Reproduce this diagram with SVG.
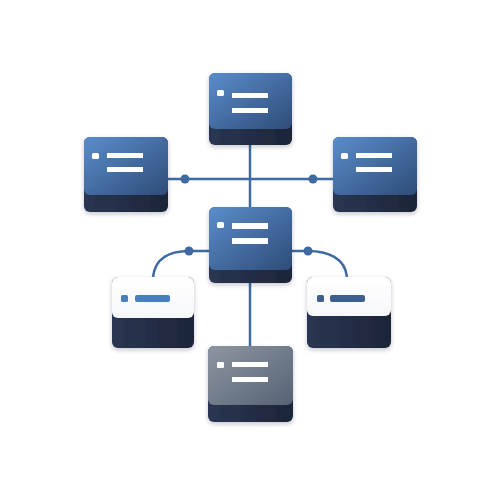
<svg xmlns="http://www.w3.org/2000/svg" width="500" height="500" viewBox="0 0 500 500">
<defs>
<linearGradient id="blue" x1="0" y1="0" x2="1" y2="1">
<stop offset="0" stop-color="#5a8dcb"/>
<stop offset="1" stop-color="#2e4c78"/>
</linearGradient>
<linearGradient id="gray" x1="0" y1="0" x2="1" y2="1">
<stop offset="0" stop-color="#8d96a2"/>
<stop offset="1" stop-color="#566273"/>
</linearGradient>
<linearGradient id="white" x1="0" y1="0" x2="0" y2="1">
<stop offset="0" stop-color="#ffffff"/>
<stop offset="1" stop-color="#f6f7f9"/>
</linearGradient>
<linearGradient id="base" x1="0" y1="0" x2="1" y2="0">
<stop offset="0" stop-color="#2a3652"/>
<stop offset="1" stop-color="#1d2539"/>
</linearGradient>
<filter id="sh" x="-20%" y="-20%" width="140%" height="150%">
<feDropShadow dx="0" dy="2" stdDeviation="2" flood-color="#1d2539" flood-opacity="0.25"/>
</filter>
</defs>
<style>
.base{fill:url(#base)}
.fb{fill:url(#blue)}
.fg{fill:url(#gray)}
.fw{fill:url(#white)}
.bar{fill:#ffffff}
.con{fill:none;stroke:#3e6aa1;stroke-width:2.5}
.jd{fill:#3e6aa1}
</style>
<g id="connectors">
<path class="con" d="M168 179 H333"/>
<path class="con" d="M250 145 V207"/>
<path class="con" d="M250 283 V346"/>
<path class="con" d="M209 251 H189 C170 251 155 258 153 277"/>
<path class="con" d="M292 251 H308 C328 251 345 258 347 277"/>
<circle class="jd" cx="185" cy="179" r="4.5"/>
<circle class="jd" cx="313" cy="179" r="4.5"/>
<circle class="jd" cx="189" cy="251" r="4.5"/>
<circle class="jd" cx="308" cy="251" r="4.5"/>
</g>
<g id="node-top" filter="url(#sh)">
<rect class="base" x="209" y="73" width="83" height="72" rx="6"/>
<rect class="fb" x="209" y="73" width="83" height="56" rx="6"/>
<rect class="bar" x="217" y="90" width="7" height="6" rx="1.5"/>
<rect class="bar" x="232" y="93" width="36" height="5"/>
<rect class="bar" x="232" y="108" width="36" height="5"/>
</g>
<g id="node-left" filter="url(#sh)">
<rect class="base" x="84" y="137" width="84" height="75" rx="6"/>
<rect class="fb" x="84" y="137" width="84" height="58" rx="6"/>
<rect class="bar" x="92" y="153" width="7" height="6" rx="1.5"/>
<rect class="bar" x="107" y="153" width="36" height="5"/>
<rect class="bar" x="107" y="167" width="36" height="5"/>
</g>
<g id="node-right" filter="url(#sh)">
<rect class="base" x="333" y="137" width="84" height="75" rx="6"/>
<rect class="fb" x="333" y="137" width="84" height="58" rx="6"/>
<rect class="bar" x="341" y="153" width="7" height="6" rx="1.5"/>
<rect class="bar" x="356" y="153" width="36" height="5"/>
<rect class="bar" x="356" y="167" width="36" height="5"/>
</g>
<g id="node-center" filter="url(#sh)">
<rect class="base" x="209" y="207" width="83" height="76" rx="6"/>
<rect class="fb" x="209" y="207" width="83" height="63" rx="6"/>
<rect class="bar" x="217" y="222" width="7" height="6" rx="1.5"/>
<rect class="bar" x="232" y="223" width="36" height="6"/>
<rect class="bar" x="232" y="238" width="36" height="6"/>
</g>
<g id="node-lower-left" filter="url(#sh)">
<rect class="base" x="112" y="277" width="82" height="71" rx="6"/>
<rect class="fw" x="112" y="277" width="82" height="41" rx="6"/>
<rect x="121" y="295" width="7" height="7" rx="1.5" fill="#4a7fbf"/>
<rect x="135" y="295" width="35" height="7" rx="2" fill="#4a7fbf"/>
</g>
<g id="node-lower-right" filter="url(#sh)">
<rect class="base" x="307" y="277" width="84" height="71" rx="6"/>
<rect class="fw" x="307" y="277" width="84" height="39" rx="6"/>
<rect x="317" y="295" width="7" height="7" rx="1.5" fill="#3d5f8f"/>
<rect x="330" y="295" width="35" height="7" rx="2" fill="#3d5f8f"/>
</g>
<g id="node-bottom" filter="url(#sh)">
<rect class="base" x="208" y="346" width="85" height="76" rx="6"/>
<rect class="fg" x="208" y="346" width="85" height="59" rx="6"/>
<rect class="bar" x="217" y="362" width="7" height="6" rx="1"/>
<rect class="bar" x="232" y="362" width="36" height="5"/>
<rect class="bar" x="232" y="377" width="36" height="5"/>
</g>
</svg>
